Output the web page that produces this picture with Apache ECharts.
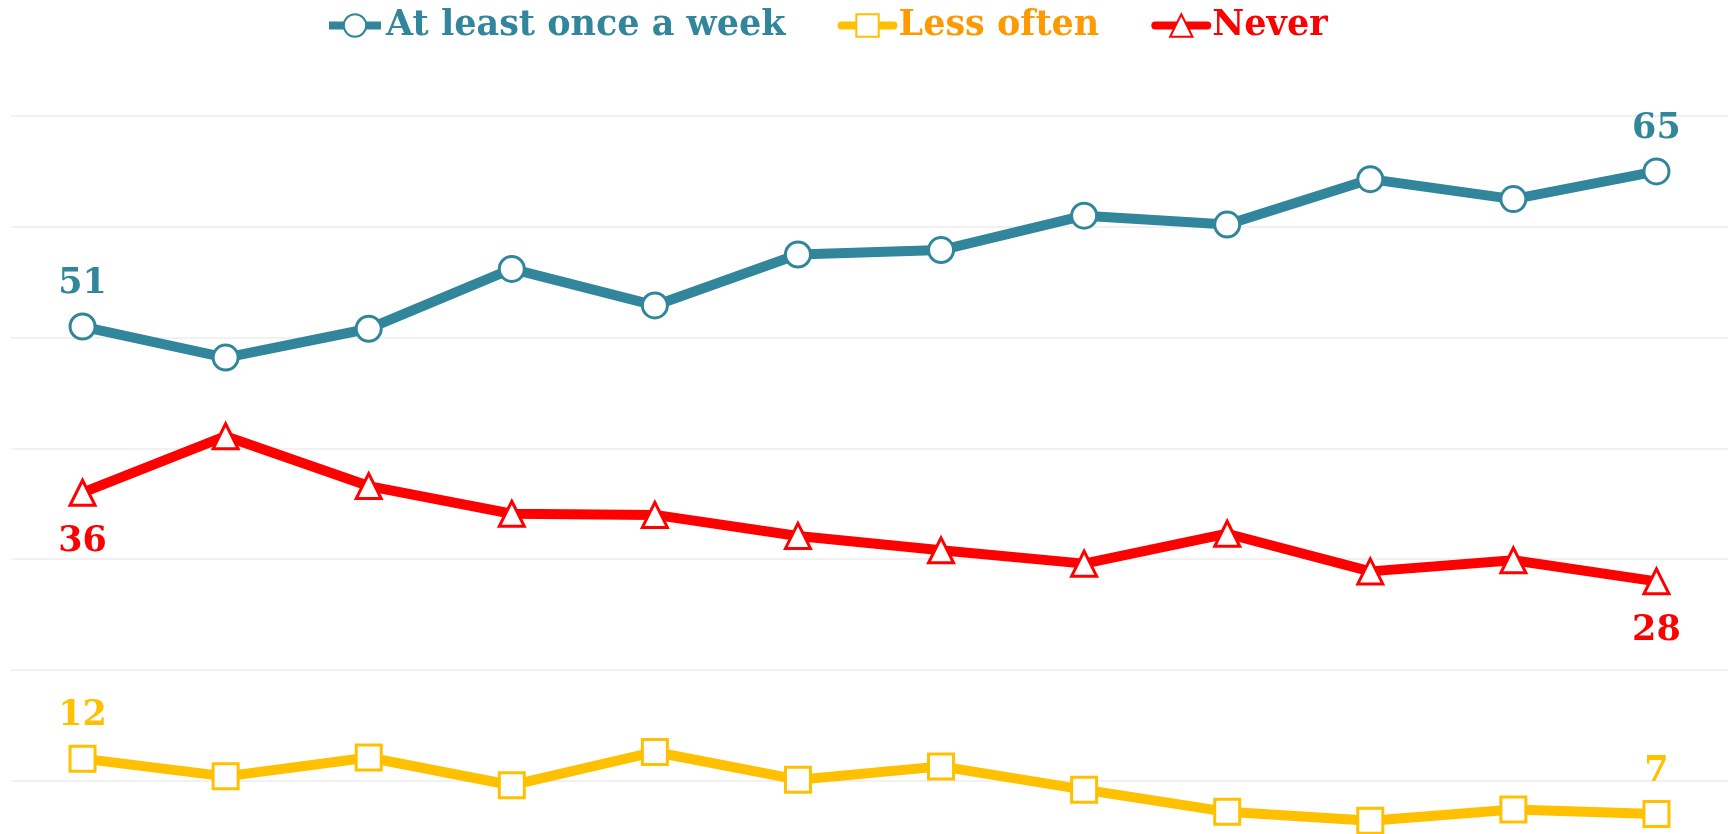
<!DOCTYPE html>
<html>
<head>
<meta charset="utf-8">
<script src="https://cdn.jsdelivr.net/npm/echarts@6/dist/echarts.min.js"></script>
<style>
  html, body { margin: 0; padding: 0; background: #ffffff; }
  #chart { width: 1731px; height: 834px; }
</style>
</head>
<body>
<div id="chart"></div>
<script>
// Survey periods (12 waves)
const categories = ['1', '2', '3', '4', '5', '6', '7', '8', '9', '10', '11', '12'];

// Share of respondents, percent
const weekly = [51, 48.2, 50.8, 56.2, 52.9, 57.5, 57.9, 61.0, 60.2, 64.3, 62.5, 65];
const lessOften = [12, 10.4, 12.1, 9.6, 12.6, 10.1, 11.3, 9.2, 7.2, 6.4, 7.4, 7];
const never = [36, 41.1, 36.6, 34.1, 34.0, 32.1, 30.8, 29.6, 32.3, 28.9, 29.9, 28];

const yTicks = { min: 0, max: 70, interval: 10 };

const FONT = '"DejaVu Serif", serif';
const BLUE = '#31869b';
const YELLOW = '#ffc000';
const ORANGE = '#ff9900';
const RED = '#ff0000';

// Label only the first and last point of each line
function endLabels(values, position, color) {
  const last = values.length - 1;
  return values.map((v, i) => {
    if (i !== 0 && i !== last) return v;
    return {
      value: v,
      label: {
        show: true,
        position: position,
        distance: position === 'bottom' ? 18 : 11,
        color: color,
        fontFamily: FONT,
        fontWeight: 'bold',
        fontSize: 35,
        formatter: (p) => String(Math.round(p.value))
      }
    };
  });
}

function lineSeries(name, values, color, symbol, cap, labelPos) {
  return {
    name: name,
    type: 'line',
    data: endLabels(values, labelPos, color),
    symbol: symbol,
    symbolSize: 25,
    showAllSymbol: true,
    lineStyle: { color: color, width: 10, cap: cap, join: 'round' },
    itemStyle: { color: '#ffffff', borderColor: color, borderWidth: 3 },
    emphasis: { disabled: true },
    z: 3
  };
}

function legendItem(name, textColor, textWidth, lineColor, cap) {
  return {
    name: name,
    textStyle: { color: textColor, width: textWidth },
    lineStyle: { color: lineColor, width: 8, cap: cap }
  };
}

const chart = echarts.init(document.getElementById('chart'), null, { renderer: 'canvas' });

chart.setOption({
  animation: false,
  backgroundColor: '#ffffff',
  legend: {
    left: 325,
    top: 8,
    padding: 0,
    itemWidth: 52,
    itemHeight: 28,
    itemGap: 52,
    selectedMode: false,
    textStyle: { fontFamily: FONT, fontWeight: 'bold', fontSize: 35 },
    data: [
      legendItem('At least once a week', BLUE, 402, BLUE, 'butt'),
      legendItem('Less often', ORANGE, 202, YELLOW, 'round'),
      legendItem('Never', RED, 110, RED, 'round')
    ]
  },
  grid: { left: 11, right: 3, top: 116, height: 775.6, outerBoundsMode: 'none', containLabel: false },
  xAxis: {
    type: 'category',
    data: categories,
    boundaryGap: true,
    axisLine: { show: false },
    axisTick: { show: false },
    axisLabel: { show: false },
    splitLine: { show: false }
  },
  yAxis: {
    type: 'value',
    min: yTicks.min,
    max: yTicks.max,
    interval: yTicks.interval,
    axisLine: { show: false },
    axisTick: { show: false },
    axisLabel: { show: false },
    splitLine: { show: true, lineStyle: { color: '#ededed', width: 1.5 } }
  },
  series: [
    lineSeries('At least once a week', weekly, BLUE, 'circle', 'butt', 'top'),
    lineSeries('Less often', lessOften, YELLOW, 'rect', 'round', 'top'),
    lineSeries('Never', never, RED, 'triangle', 'round', 'bottom')
  ]
});
</script>
</body>
</html>
